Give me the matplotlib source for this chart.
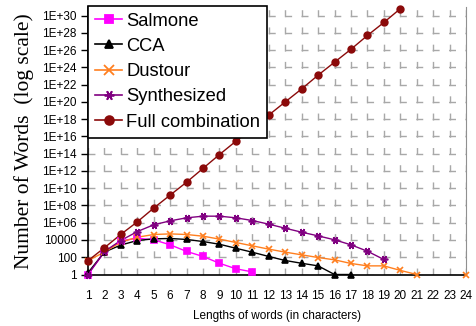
import numpy as np
import matplotlib
matplotlib.use("Agg")
import matplotlib.pyplot as plt
from matplotlib.lines import Line2D
from matplotlib.ticker import FixedLocator, FuncFormatter

plt.rcParams['font.family'] = ['Liberation Sans', 'DejaVu Sans']
plt.rcParams['lines.scale_dashes'] = False

# word lengths (x axis)
lengths = list(range(1, 25))

# number of words per length (log scale)
salmone = [1, 400, 8000, 16000, 10500, 2750, 470, 123, 20, 4.6, 2]
cca = [1.6, 400, 2600, 8700, 13500, 15000, 11500, 6600, 3200, 1100, 380,
       123, 42, 20, 10, 1, 1]
dustour = [40, 400, 5600, 21000, 43000, 51000, 43000, 27500, 12600, 5100,
           2100, 870, 390, 190, 93, 50, 19, 10, 10, 3, 1, 0, 0, 1]
synthesized = [1, 470, 8700, 95000, 5.75e5, 1.66e6, 3.7e6, 5.75e6, 5.75e6,
               3.7e6, 1.8e6, 6.8e5, 2.3e5, 8e4, 3e4, 1.05e4, 2750, 500, 55]
full_comb = [40, 1260, 4.5e4, 1.26e6, 5e7, 1.6e9, 5e10, 2e12, 8e13, 2.8e15,
             8e16, 3e18, 1e20, 3.2e21, 1.26e23, 4e24, 1.26e26, 5e27, 1.6e29,
             6.3e30]

names = ['Salmone', 'CCA', 'Dustour', 'Synthesized', 'Full combination']
series = [salmone, cca, dustour, synthesized, full_comb]
colors = ['#FF00FF', '#000000', '#FF7F1F', '#800080', '#8B0A0A']
markers = ['s', '^', 'x', (6, 2, 90), 'o']
msizes = [4.8, 4.8, 5, 5.5, 4.8]

fig = plt.figure(figsize=(4.76, 3.26), dpi=100)
W, H = 476, 326
ax = fig.add_axes([88 / W, 1 - 274.5 / H, (466 - 88) / W, (274.5 - 7) / H])
ax.set_yscale('log')
ax.set_xlim(1, 24)
ax.set_ylim(1, 1e31)

handles = []
for vals, name, c, m, ms in zip(series, names, colors, markers, msizes):
    x = np.array(lengths[:len(vals)])
    y = np.array(vals, dtype=float)
    ax.plot(x, y, color=c, lw=1, zorder=3)
    ok = y >= 1
    ax.plot(x[ok], y[ok], ls='none', marker=m, ms=ms, color=c, mec=c,
            mew=1.2, clip_on=False, zorder=4)
    handles.append(Line2D([], [], color=c, lw=1.2, marker=m, ms=ms + 1.5,
                          mec=c, mew=1.3))

# y ticks every two decades, Excel style labels
yticks = [10.0 ** e for e in range(0, 31, 2)]
ax.yaxis.set_major_locator(FixedLocator(yticks))
ax.yaxis.set_minor_locator(FixedLocator([]))


def fmt(v, pos):
    e = int(round(np.log10(v)))
    if e <= 4:
        return str(int(round(v)))
    return '1E+%02d' % e


ax.yaxis.set_major_formatter(FuncFormatter(fmt))
ax.set_xticks(lengths)
ax.tick_params(axis='y', length=5, width=1, pad=3, labelsize=8.5)
ax.tick_params(axis='x', length=0, pad=11, labelsize=8.5)

ax.yaxis.grid(True, color='#A8A8A8', lw=1, linestyle=(0, (5, 6.8)))
ax.xaxis.grid(True, color='#A8A8A8', lw=1, linestyle=(0, (5, 7.4)))
ax.set_axisbelow(True)

ax.spines['top'].set_visible(False)
ax.spines['right'].set_color('#909090')
ax.spines['left'].set_linewidth(1.2)
ax.spines['bottom'].set_linewidth(1.2)

ax.set_xlabel('Lengths of words (in characters)', fontsize=8.5, labelpad=6)
ax.set_ylabel('Number of Words  (log scale)', family=['Liberation Serif'],
              fontsize=15.5, labelpad=6)

leg = ax.legend(handles, names, loc='upper left', bbox_to_anchor=(0, 1.005),
                borderaxespad=0, fontsize=13.2, frameon=True, fancybox=False,
                framealpha=1, edgecolor='black', handlelength=1.5,
                handletextpad=0.22, borderpad=0.38, labelspacing=0.45)
leg.get_frame().set_linewidth(1.2)
leg.set_zorder(10)

fig.savefig('out.png', dpi=100)
